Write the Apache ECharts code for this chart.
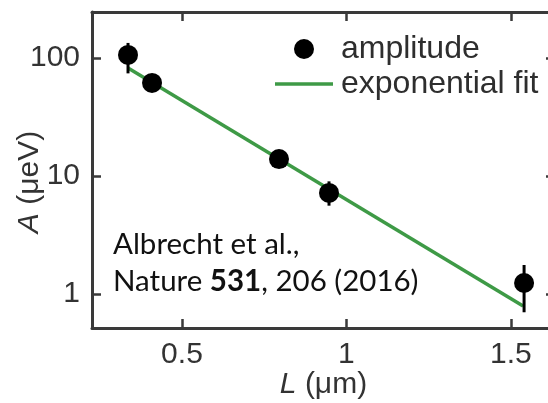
<!DOCTYPE html>
<html><head><meta charset="utf-8">
<script src="https://cdn.jsdelivr.net/npm/echarts@6/dist/echarts.min.js"></script>
<style>html,body{margin:0;padding:0;background:#fff}#c{width:548px;height:403px}</style>
</head><body><div id="c"></div>
<script>
// Data
const lengthUm = [0.336, 0.409, 0.795, 0.947, 1.540];
const amplitude = [106, 61.4, 13.9, 7.18, 1.24];
const errLow = [74, 56, 12.8, 5.6, 0.70];
const errHigh = [134, 67, 15.2, 9.0, 1.76];
const fitL = [0.336, 1.537];
const fitA = [82.3, 0.791];
const xTicks = [0.5, 1, 1.5];
const yTicks = [1, 10, 100];
const xRange = [0.2265, 1.634];
const yRange = [0.515, 245];

const FONT = "'Liberation Sans', Arial, sans-serif";
const CITE_FONT = "Lato, 'Open Sans', sans-serif";
const AX = '#3a3a3a';

const chart = echarts.init(document.getElementById('c'));

const scatterData = lengthUm.map((x, i) => [x, amplitude[i]]);
const errData = lengthUm.map((x, i) => [x, errLow[i], errHigh[i]]);
const fitData = fitL.map((x, i) => [x, fitA[i]]);

const axisLineStyle = { color: AX, width: 3 };
const tickStyle = { color: AX, width: 2.5 };

chart.setOption({
  animation: false,
  backgroundColor: '#fff',
  grid: { left: 92, top: 12, right: -7, bottom: 75, containLabel: false, outerBoundsMode: 'none' },
  legend: {
    orient: 'vertical', left: 270, top: 28, itemWidth: 58, itemHeight: 20, itemGap: 3,
    symbolKeepAspect: true,
    data: [{ name: 'amplitude', icon: 'circle' }, { name: 'exponential fit', icon: 'path://M0,0H58V3.5H0Z' }],
    textStyle: { fontFamily: FONT, fontSize: 32, color: '#2e2e2e', padding: [0, 0, 0, 3] }
  },
  xAxis: [{
    type: 'value', min: xRange[0], max: xRange[1], position: 'bottom',
    name: '{i|L} (μm)', nameLocation: 'middle', nameGap: 42, nameMoveOverlap: false,
    nameTextStyle: { fontFamily: FONT, fontSize: 30, color: '#333', rich: { i: { fontStyle: 'italic', fontFamily: FONT, fontSize: 30, color: '#333' } } },
    axisLine: { lineStyle: axisLineStyle },
    axisTick: { inside: true, length: 9, lineStyle: tickStyle, customValues: xTicks },
    axisLabel: { fontFamily: FONT, fontSize: 30, color: '#333', margin: 12, customValues: xTicks },
    splitLine: { show: false }
  }, {
    type: 'value', min: xRange[0], max: xRange[1], position: 'top',
    axisLine: { lineStyle: axisLineStyle },
    axisTick: { inside: true, length: 9, lineStyle: tickStyle, customValues: xTicks },
    axisLabel: { show: false },
    splitLine: { show: false }
  }],
  yAxis: [{
    type: 'log', logBase: 10, min: yRange[0], max: yRange[1], position: 'left',
    name: '{i|A} (μeV)', nameLocation: 'middle', nameGap: 47, nameMoveOverlap: false,
    nameTextStyle: { fontFamily: FONT, fontSize: 30, color: '#333', padding: [0, 24, 0, 0], rich: { i: { fontStyle: 'italic', fontFamily: FONT, fontSize: 30, color: '#333' } } },
    axisLine: { lineStyle: axisLineStyle },
    axisTick: { inside: true, length: 9, lineStyle: tickStyle, customValues: yTicks },
    minorTick: { show: false },
    axisLabel: { fontFamily: FONT, fontSize: 30, color: '#333', margin: 12, customValues: yTicks },
    splitLine: { show: false }
  }, {
    type: 'log', logBase: 10, min: yRange[0], max: yRange[1], position: 'right',
    axisLine: { lineStyle: axisLineStyle },
    axisTick: { inside: true, length: 9, lineStyle: tickStyle, customValues: yTicks },
    axisLabel: { show: false },
    splitLine: { show: false }
  }],
  graphic: [{
    type: 'text', left: 113, top: 229, z: 100,
    style: { text: 'Albrecht et al.,', fontFamily: CITE_FONT, fontSize: 29.5, fill: '#111' }
  }, {
    type: 'text', left: 113, top: 266, z: 100,
    style: {
      text: 'Nature {b|531}, 206 (2016)', fontFamily: CITE_FONT, fontSize: 29.5, fill: '#111',
      rich: { b: { fontWeight: 'bold', fontFamily: CITE_FONT, fontSize: 29.5, fill: '#111', color: '#111' } }
    }
  }],
  series: [{
    name: 'exponential fit', type: 'line', data: fitData, symbol: 'none', z: 2,
    lineStyle: { color: '#3e9a46', width: 3.5 }, itemStyle: { color: '#3e9a46' }
  }, {
    name: 'errors', type: 'custom', data: errData, z: 3,
    encode: { x: 0, y: [1, 2] },
    renderItem: function (params, api) {
      const p1 = api.coord([api.value(0), api.value(1)]);
      const p2 = api.coord([api.value(0), api.value(2)]);
      return { type: 'line', shape: { x1: p1[0], y1: p1[1], x2: p2[0], y2: p2[1] }, style: { stroke: '#000', lineWidth: 3 } };
    }
  }, {
    name: 'amplitude', type: 'scatter', data: scatterData, symbol: 'circle', symbolSize: 20, z: 4,
    itemStyle: { color: '#000', opacity: 1 }
  }]
});
</script></body></html>
